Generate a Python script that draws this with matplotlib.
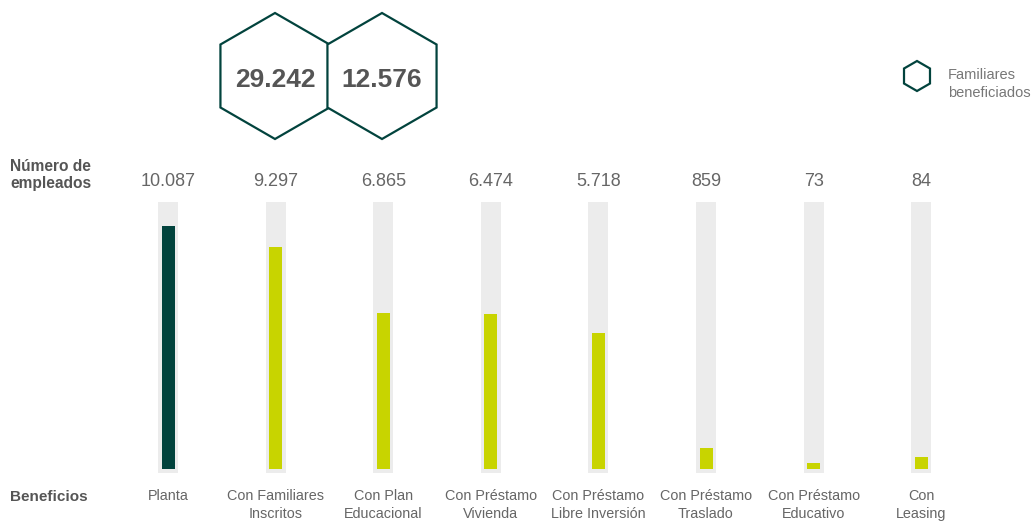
import matplotlib
matplotlib.use('Agg')
import matplotlib.pyplot as plt
import matplotlib.transforms as mtransforms
from matplotlib.patches import RegularPolygon
import numpy as np

# Data
categories = ['Planta', 'Con Familiares\nInscritos', 'Con Plan\nEducacional',
              'Con Préstamo\nVivienda', 'Con Préstamo\nLibre Inversión',
              'Con Préstamo\nTraslado', 'Con Préstamo\nEducativo', 'Con\nLeasing']
employees = [10087, 9297, 6865, 6474, 5718, 859, 73, 84]
value_labels = ['10.087', '9.297', '6.865', '6.474', '5.718', '859', '73', '84']
# bar lengths as drawn in the picture (same units as employees)
bar_lengths = [10087, 9210, 6470, 6430, 5640, 870, 250, 500]
family_values = ['29.242', '12.576']

DARK = '#02433d'
LIME = '#c8d400'
TRACK = '#ececec'
GRAY = '#666666'
FONT = ['Liberation Sans', 'DejaVu Sans']

W, H = 1033, 525
fig = plt.figure(figsize=(W / 100, H / 100), dpi=100)

# bar area
ax = fig.add_axes([0, 52 / H, 1, 271 / H])
x = np.arange(len(categories))
step = 107.6
ax.set_xlim(-168 / step, (W - 168) / step)
ylo, yhi = -166, 11080
ax.set_ylim(ylo, yhi)
ax.bar(x, yhi - ylo, bottom=ylo, width=20 / step, color=TRACK)
colors = [DARK] + [LIME] * (len(categories) - 1)
ax.bar(x, bar_lengths, width=13 / step, color=colors)
ax.axis('off')

# overlay in pixel coords
ov = fig.add_axes([0, 0, 1, 1], facecolor='none')
ov.set_xlim(0, W)
ov.set_ylim(H, 0)
ov.axis('off')
blend = mtransforms.blended_transform_factory(ax.transData, ov.transData)

for i, (lab, cat) in enumerate(zip(value_labels, categories)):
    ov.text(i, 182, lab, transform=blend, ha='center', va='center',
            fontsize=13, color=GRAY, family=FONT)
    ov.text(i, 489, cat, transform=blend, ha='center', va='top',
            fontsize=10.4, color=GRAY, family=FONT, linespacing=1.4)

ov.text(10, 175, 'Número de\nempleados', ha='left', va='center', fontsize=11.2,
        fontweight='bold', color='#555555', family=FONT, linespacing=1.15)
ov.text(10, 497, 'Beneficios', ha='left', va='center', fontsize=11,
        fontweight='bold', color='#555555', family=FONT)

# hexagons with family totals
for cx, val in zip([275, 382], family_values):
    ov.add_patch(RegularPolygon((cx, 76), numVertices=6, radius=63,
                                orientation=0, facecolor='white',
                                edgecolor=DARK, lw=1.6))
    ov.text(cx, 80, val, ha='center', va='center', fontsize=19,
            fontweight='bold', color='#555555', family=FONT)

# legend
ov.add_patch(RegularPolygon((917, 76), numVertices=6, radius=15,
                            orientation=0, facecolor='white',
                            edgecolor=DARK, lw=1.6))
ov.text(948, 84, 'Familiares\nbeneficiados', ha='left', va='center',
        fontsize=10.5, color='#777777', family=FONT, linespacing=1.45)

fig.savefig('out.png', dpi=100)
